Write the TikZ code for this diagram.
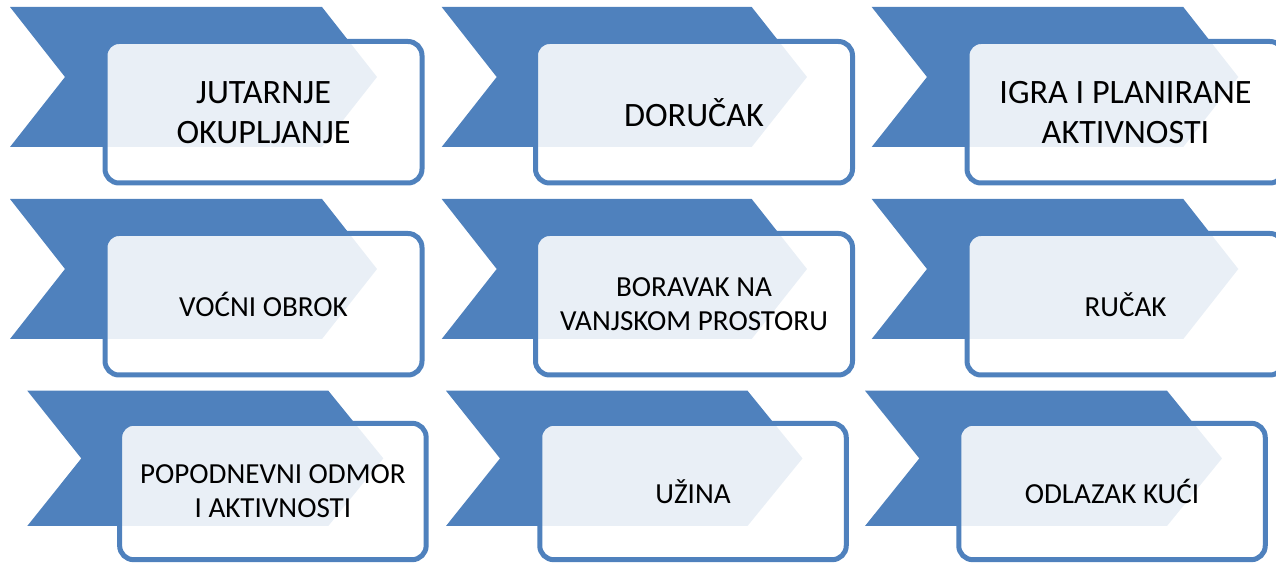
\documentclass[tikz,border=0pt]{standalone}
\usepackage{fontspec}
\setmainfont{Carlito}
\usepackage{tikz}
\usetikzlibrary{shapes,backgrounds,positioning,calc}

\definecolor{accblue}{RGB}{79,129,189}
\newcommand{\bigtxt}{\fontsize{34.3}{40}\selectfont}
\newcommand{\smalltxt}{\fontsize{29.2}{34}\selectfont}

\begin{document}
\begin{tikzpicture}[line join=miter,
  chev/.style={fill=accblue},
  tile/.style={draw=accblue,line width=5bp,rounded corners=14bp,fill=white,
    fill opacity=0.88,text opacity=1,align=center,inner sep=0pt},
  tilea/.style={tile,minimum width=317bp,minimum height=141.5bp,font=\bigtxt},
  tileb/.style={tile,minimum width=317bp,minimum height=141.5bp,font=\smalltxt},
  tilec/.style={tile,minimum width=306.5bp,minimum height=136.4bp,font=\smalltxt}]
\useasboundingbox (0bp,0bp) rectangle (1276bp,564bp);
\clip (0bp,0bp) rectangle (1276bp,564bp);
%%
\fill [chev] (10bp,557bp) -- (322bp,557bp) -- (377bp,487bp) -- (322bp,417bp) -- (10bp,417bp) -- (65bp,487bp) -- cycle;
  \fill [chev] (441.7bp,557bp) -- (751.7bp,557bp) -- (807bp,487bp) -- (751.7bp,417bp) -- (441.7bp,417bp) -- (496.7bp,487bp) -- cycle;
  \fill [chev] (871.7bp,557bp) -- (1183.3bp,557bp) -- (1238.3bp,487bp) -- (1183.3bp,417bp) -- (871.7bp,417bp) -- (927bp,487bp) -- cycle;
  \fill [chev] (10bp,365bp) -- (322bp,365bp) -- (377bp,295bp) -- (322bp,225bp) -- (10bp,225bp) -- (65bp,295bp) -- cycle;
  \fill [chev] (441.7bp,365bp) -- (751.7bp,365bp) -- (807bp,295bp) -- (751.7bp,225bp) -- (441.7bp,225bp) -- (496.7bp,295bp) -- cycle;
  \fill [chev] (871.7bp,365bp) -- (1183.3bp,365bp) -- (1238.3bp,295bp) -- (1183.3bp,225bp) -- (871.7bp,225bp) -- (927bp,295bp) -- cycle;
  \fill [chev] (27.3bp,173.3bp) -- (328.3bp,173.3bp) -- (383.3bp,105.6bp) -- (328.3bp,38bp) -- (27.3bp,38bp) -- (81.3bp,105.6bp) -- cycle;
  \fill [chev] (446bp,173.3bp) -- (747.5bp,173.3bp) -- (802.5bp,105.6bp) -- (747.5bp,38bp) -- (446bp,38bp) -- (500bp,105.6bp) -- cycle;
  \fill [chev] (865bp,173.3bp) -- (1167bp,173.3bp) -- (1222bp,105.6bp) -- (1167bp,38bp) -- (865bp,38bp) -- (919.3bp,105.6bp) -- cycle;
%
\node (jutarnje) at (263.5bp,451.75bp) [tilea] {JUTARNJE\\OKUPLJANJE};
  \node (dorucak) at (694bp,451.75bp) [tilea] {DORUČAK};
  \node (igra) at (1125.5bp,451.75bp) [tilea] {IGRA I PLANIRANE\\AKTIVNOSTI};
  \node (vocni) at (263.5bp,259.75bp) [tileb] {VOĆNI OBROK};
  \node (boravak) at (694bp,259.75bp) [tileb] {BORAVAK NA\\VANJSKOM PROSTORU};
  \node (rucak) at (1125.5bp,259.75bp) [tileb] {RUČAK};
  \node (odmor) at (272.9bp,72.5bp) [tilec] {POPODNEVNI ODMOR\\I AKTIVNOSTI};
  \node (uzina) at (693bp,72.5bp) [tilec] {UŽINA};
  \node (odlazak) at (1112bp,72.5bp) [tilec] {ODLAZAK KUĆI};
%
\end{tikzpicture}
\end{document}
